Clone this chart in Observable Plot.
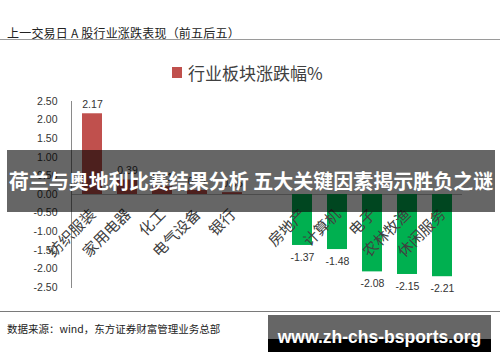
<!DOCTYPE html>
<html>
<head>
<meta charset="utf-8">
<script src="https://cdn.jsdelivr.net/npm/d3@7"></script>
<script src="https://cdn.jsdelivr.net/npm/@observablehq/plot@0.6"></script>
<style>
  html, body { margin: 0; padding: 0; background: #fff; }
  #wrap { position: relative; width: 500px; height: 362px; overflow: hidden; background: #fff;
          font-family: "Noto Sans CJK SC", "Noto Sans", sans-serif; }
  .abs { position: absolute; }
  #title { left: 7px; top: 24px; font-size: 12px; color: #222; white-space: nowrap; letter-spacing: 0.2px; }
  #topline { left: 0; top: 39px; width: 500px; height: 0; border-top: 1.5px solid #9a9a9a; }
  #legsw { left: 172px; top: 67px; width: 10px; height: 11px; }
  #legtx { left: 188px; top: 60px; font-size: 17px; color: #404040; white-space: nowrap; }
  #chart { left: 0; top: 90px; }
  #botline { left: 0; top: 311px; width: 500px; height: 0; border-top: 1.5px solid #7a7a7a; }
  #caption { left: 7px; top: 321px; font-size: 10.5px; color: #222; white-space: nowrap; }
  #band { left: 7px; top: 150px; width: 488px; height: 62px; background: rgba(0,0,0,0.6);
          color: #fff; font-weight: bold; font-size: 20px; line-height: 62px; text-align: center; white-space: nowrap; }
  #wm { left: 268px; top: 315px; width: 223px; height: 37px;
        background: linear-gradient(#666 0, #666 65%, #000 65%, #000 100%);
        color: #fff; font-family: "Liberation Sans", Arial, sans-serif; font-weight: bold; font-size: 17.5px;
        text-align: center; line-height: 44px; white-space: nowrap; }
</style>
</head>
<body>
<div id="wrap">
  <div id="title" class="abs"></div>
  <div id="topline" class="abs"></div>
  <div id="legsw" class="abs"></div>
  <div id="legtx" class="abs"></div>
  <div id="chart" class="abs"></div>
  <div id="botline" class="abs"></div>
  <div id="caption" class="abs"></div>
  <div id="band" class="abs"></div>
  <div id="wm" class="abs"></div>
</div>
<script>
// ---- data ----
const titleText = "上一交易日 A 股行业涨跌表现（前五后五）";
const legendText = "行业板块涨跌幅%";
const captionText = "数据来源：wind，东方证券财富管理业务总部";
const overlayText = "荷兰与奥地利比赛结果分析 五大关键因素揭示胜负之谜";
const watermarkText = "www.zh-chs-bsports.org";

const categories = ["纺织服装", "家用电器", "化工", "电气设备", "银行", " ", "房地产", "计算机", "电子", "农林牧渔", "休闲服务"];
const values =     [2.17,       0.39,       0.21,   0.11,       0.05,   null, -1.37,    -1.48,    -2.08,  -2.15,      -2.21];
const yTicks = [2.5, 2.0, 1.5, 1.0, 0.5, 0.0, -0.5, -1.0, -1.5, -2.0, -2.5];
const upColor = "#C0504D";
const downColor = "#00B050";

// ---- build ----
document.getElementById("title").textContent = titleText;
document.getElementById("legtx").textContent = legendText;
document.getElementById("legsw").style.background = upColor;
document.getElementById("caption").textContent = captionText;
document.getElementById("band").textContent = overlayText;
document.getElementById("wm").textContent = watermarkText;

const rows = categories.map((c, i) => ({cat: c, v: values[i]})).filter(d => d.v !== null);
const pos = rows.filter(d => d.v >= 0);
const neg = rows.filter(d => d.v < 0);
const fmt = d => d.toFixed(2);

const chart = Plot.plot({
  width: 500,
  height: 220,
  marginTop: 11,
  marginBottom: 23,
  marginLeft: 71,
  marginRight: 38,
  style: {fontFamily: "'Liberation Sans', 'Noto Sans', sans-serif", background: "transparent", overflow: "visible"},
  x: {domain: categories, paddingInner: 0.44, paddingOuter: 0.22, axis: null},
  y: {domain: [-2.5, 2.5]},
  marks: [
    Plot.ruleY([0], {stroke: "#bbb", strokeWidth: 1}),
    Plot.barY(rows, {x: "cat", y: "v", fill: d => d.v >= 0 ? upColor : downColor}),
    Plot.frame({anchor: "left", stroke: "#8a8a8a"}),
    Plot.axisY({ticks: yTicks, tickSize: 0, tickPadding: 14, tickFormat: fmt, fontSize: 10.5, color: "#333", label: null}),
    Plot.text(pos, {x: "cat", y: "v", text: d => fmt(d.v), dy: -9, fontSize: 10.5, fill: "#333"}),
    Plot.text(neg, {x: "cat", y: "v", text: d => fmt(d.v), dy: 12, fontSize: 10.5, fill: "#333"}),
    Plot.text(rows, {x: "cat", y: d => 0, text: "cat", rotate: -45, textAnchor: "end", lineAnchor: "bottom",
      dx: 4, dy: 21, fontSize: 15, fill: "#404040", fontFamily: "'Noto Sans CJK SC', sans-serif"})
  ]
});
document.getElementById("chart").appendChild(chart);
</script>
</body>
</html>
